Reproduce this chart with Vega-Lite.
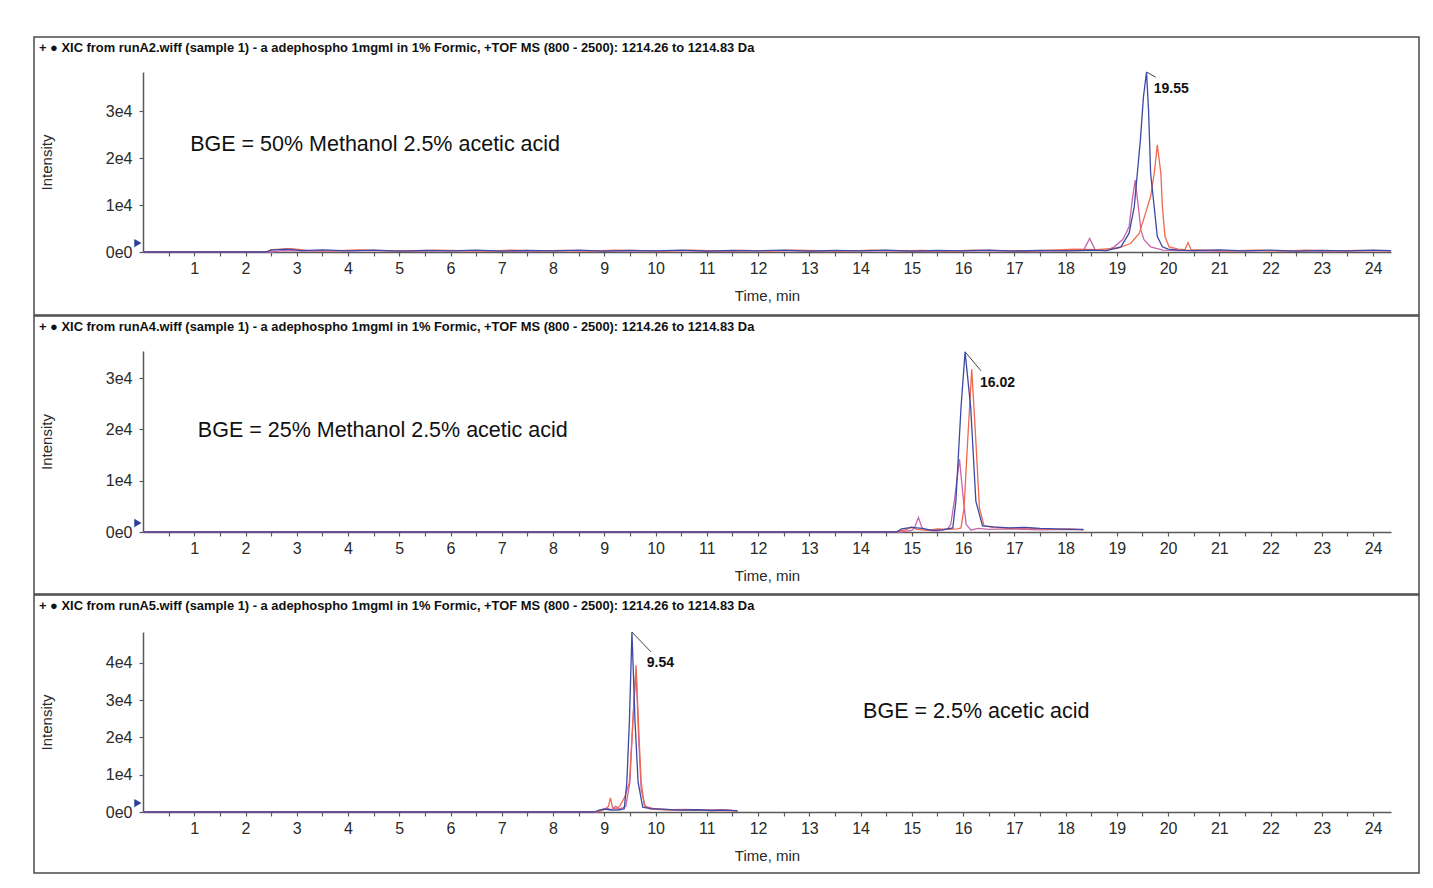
{
  "$schema": "https://vega.github.io/schema/vega-lite/v6.json",
  "padding": {"left": 33, "top": 36, "right": 10, "bottom": 10},
  "spacing": -2,
  "background": "white",
  "config": {
    "view": {"stroke": "#4a4a4a", "strokeWidth": 1.5},
    "axis": {"domainColor": "#5a5a5a", "domainWidth": 1.5, "tickColor": "#5a5a5a", "tickWidth": 1.2, "tickSize": 4, "labelFont": "Liberation Sans", "labelFontSize": 16, "labelColor": "#2a2a2a", "titleFont": "Liberation Sans", "titleFontSize": 15, "titleFontWeight": "normal", "titleColor": "#2a2a2a", "grid": false},
    "title": {"font": "Liberation Sans", "fontSize": 12.9, "fontWeight": "bold", "anchor": "start", "color": "#111111", "frame": "group", "offset": -18, "baseline": "middle", "dx": 5},
    "line": {"strokeWidth": 1.3}
  },
  "datasets": {
    "p1": [
      {"s":"p","t":0,"i":0},{"s":"p","t":2.5,"i":0},{"s":"p","t":2.7,"i":300},{"s":"p","t":3.3,"i":200},{"s":"p","t":4.3,"i":300},{"s":"p","t":5.3,"i":200},{"s":"p","t":6.3,"i":300},{"s":"p","t":7.3,"i":150},{"s":"p","t":8.3,"i":300},{"s":"p","t":9.3,"i":200},{"s":"p","t":10.3,"i":300},{"s":"p","t":11.3,"i":150},{"s":"p","t":12.3,"i":300},{"s":"p","t":13.3,"i":200},{"s":"p","t":14.3,"i":300},{"s":"p","t":15.3,"i":150},{"s":"p","t":16.3,"i":300},{"s":"p","t":17.3,"i":200},{"s":"p","t":18,"i":300},{"s":"p","t":18.35,"i":300},{"s":"p","t":18.47,"i":2900},{"s":"p","t":18.58,"i":400},{"s":"p","t":18.8,"i":300},{"s":"p","t":18.95,"i":1100},{"s":"p","t":19.11,"i":2600},{"s":"p","t":19.18,"i":4000},{"s":"p","t":19.24,"i":5400},{"s":"p","t":19.31,"i":11800},{"s":"p","t":19.36,"i":15300},{"s":"p","t":19.42,"i":9600},{"s":"p","t":19.47,"i":4700},{"s":"p","t":19.53,"i":2600},{"s":"p","t":19.66,"i":1100},{"s":"p","t":19.9,"i":400},{"s":"p","t":20.3,"i":300},{"s":"p","t":21,"i":200},{"s":"p","t":22,"i":300},{"s":"p","t":23,"i":200},{"s":"p","t":24.35,"i":300},
      {"s":"r","t":0,"i":0},{"s":"r","t":2.4,"i":0},{"s":"r","t":2.5,"i":500},{"s":"r","t":2.9,"i":700},{"s":"r","t":3.2,"i":350},{"s":"r","t":3.7,"i":250},{"s":"r","t":4.2,"i":450},{"s":"r","t":4.7,"i":300},{"s":"r","t":5.2,"i":200},{"s":"r","t":5.7,"i":400},{"s":"r","t":6.2,"i":300},{"s":"r","t":6.7,"i":200},{"s":"r","t":7.2,"i":400},{"s":"r","t":7.7,"i":250},{"s":"r","t":8.2,"i":350},{"s":"r","t":8.7,"i":200},{"s":"r","t":9.2,"i":400},{"s":"r","t":9.7,"i":300},{"s":"r","t":10.2,"i":200},{"s":"r","t":10.7,"i":400},{"s":"r","t":11.2,"i":250},{"s":"r","t":11.7,"i":350},{"s":"r","t":12.2,"i":200},{"s":"r","t":12.7,"i":400},{"s":"r","t":13.2,"i":300},{"s":"r","t":13.7,"i":200},{"s":"r","t":14.2,"i":400},{"s":"r","t":14.7,"i":250},{"s":"r","t":15.2,"i":350},{"s":"r","t":15.7,"i":200},{"s":"r","t":16.2,"i":400},{"s":"r","t":16.7,"i":300},{"s":"r","t":17.2,"i":200},{"s":"r","t":17.7,"i":400},{"s":"r","t":18.2,"i":600},{"s":"r","t":18.6,"i":500},{"s":"r","t":19.01,"i":800},{"s":"r","t":19.27,"i":1800},{"s":"r","t":19.44,"i":4000},{"s":"r","t":19.57,"i":8600},{"s":"r","t":19.66,"i":11800},{"s":"r","t":19.73,"i":16700},{"s":"r","t":19.79,"i":22800},{"s":"r","t":19.86,"i":16700},{"s":"r","t":19.89,"i":9600},{"s":"r","t":19.94,"i":3300},{"s":"r","t":20.02,"i":1100},{"s":"r","t":20.2,"i":600},{"s":"r","t":20.33,"i":500},{"s":"r","t":20.39,"i":2000},{"s":"r","t":20.45,"i":500},{"s":"r","t":20.7,"i":400},{"s":"r","t":21.2,"i":250},{"s":"r","t":21.7,"i":400},{"s":"r","t":22.2,"i":200},{"s":"r","t":22.7,"i":400},{"s":"r","t":23.2,"i":250},{"s":"r","t":23.7,"i":350},{"s":"r","t":24.35,"i":250},
      {"s":"b","t":0,"i":0},{"s":"b","t":2.4,"i":0},{"s":"b","t":2.5,"i":400},{"s":"b","t":2.8,"i":600},{"s":"b","t":3.1,"i":300},{"s":"b","t":3.5,"i":450},{"s":"b","t":4,"i":250},{"s":"b","t":4.5,"i":400},{"s":"b","t":5,"i":200},{"s":"b","t":5.5,"i":350},{"s":"b","t":6,"i":250},{"s":"b","t":6.5,"i":400},{"s":"b","t":7,"i":200},{"s":"b","t":7.5,"i":350},{"s":"b","t":8,"i":250},{"s":"b","t":8.5,"i":400},{"s":"b","t":9,"i":200},{"s":"b","t":9.5,"i":350},{"s":"b","t":10,"i":250},{"s":"b","t":10.5,"i":400},{"s":"b","t":11,"i":200},{"s":"b","t":11.5,"i":350},{"s":"b","t":12,"i":250},{"s":"b","t":12.5,"i":400},{"s":"b","t":13,"i":200},{"s":"b","t":13.5,"i":350},{"s":"b","t":14,"i":250},{"s":"b","t":14.5,"i":400},{"s":"b","t":15,"i":200},{"s":"b","t":15.5,"i":350},{"s":"b","t":16,"i":250},{"s":"b","t":16.5,"i":400},{"s":"b","t":17,"i":200},{"s":"b","t":17.5,"i":350},{"s":"b","t":18,"i":250},{"s":"b","t":18.5,"i":400},{"s":"b","t":18.8,"i":300},{"s":"b","t":19.08,"i":1100},{"s":"b","t":19.24,"i":4000},{"s":"b","t":19.34,"i":9600},{"s":"b","t":19.4,"i":16700},{"s":"b","t":19.46,"i":23800},{"s":"b","t":19.52,"i":33000},{"s":"b","t":19.58,"i":38300},{"s":"b","t":19.62,"i":30000},{"s":"b","t":19.66,"i":16700},{"s":"b","t":19.73,"i":9600},{"s":"b","t":19.79,"i":3300},{"s":"b","t":19.89,"i":1100},{"s":"b","t":20,"i":600},{"s":"b","t":20.2,"i":400},{"s":"b","t":20.5,"i":300},{"s":"b","t":21,"i":450},{"s":"b","t":21.5,"i":250},{"s":"b","t":22,"i":400},{"s":"b","t":22.5,"i":200},{"s":"b","t":23,"i":350},{"s":"b","t":23.5,"i":250},{"s":"b","t":24,"i":400},{"s":"b","t":24.35,"i":300}
    ],
    "p2": [
      {"s":"p","t":0,"i":0},{"s":"p","t":14.8,"i":0},{"s":"p","t":15,"i":300},{"s":"p","t":15.05,"i":800},{"s":"p","t":15.13,"i":2800},{"s":"p","t":15.2,"i":800},{"s":"p","t":15.3,"i":300},{"s":"p","t":15.5,"i":200},{"s":"p","t":15.7,"i":600},{"s":"p","t":15.76,"i":1500},{"s":"p","t":15.83,"i":6000},{"s":"p","t":15.93,"i":14200},{"s":"p","t":16.01,"i":6000},{"s":"p","t":16.06,"i":1500},{"s":"p","t":16.15,"i":400},{"s":"p","t":16.3,"i":700},{"s":"p","t":16.5,"i":500},{"s":"p","t":17,"i":600},{"s":"p","t":17.5,"i":400},{"s":"p","t":18,"i":500},{"s":"p","t":18.35,"i":400},
      {"s":"r","t":0,"i":0},{"s":"r","t":14.7,"i":0},{"s":"r","t":14.9,"i":500},{"s":"r","t":15,"i":1000},{"s":"r","t":15.1,"i":500},{"s":"r","t":15.3,"i":300},{"s":"r","t":15.5,"i":600},{"s":"r","t":15.7,"i":500},{"s":"r","t":15.9,"i":600},{"s":"r","t":15.96,"i":800},{"s":"r","t":16.02,"i":4700},{"s":"r","t":16.09,"i":17700},{"s":"r","t":16.17,"i":31700},{"s":"r","t":16.25,"i":17700},{"s":"r","t":16.32,"i":4700},{"s":"r","t":16.41,"i":1200},{"s":"r","t":16.6,"i":900},{"s":"r","t":16.9,"i":700},{"s":"r","t":17.2,"i":800},{"s":"r","t":17.5,"i":600},{"s":"r","t":17.8,"i":500},{"s":"r","t":18.1,"i":600},{"s":"r","t":18.35,"i":400},
      {"s":"b","t":0,"i":0},{"s":"b","t":14.7,"i":0},{"s":"b","t":14.8,"i":600},{"s":"b","t":15,"i":900},{"s":"b","t":15.2,"i":700},{"s":"b","t":15.4,"i":300},{"s":"b","t":15.6,"i":400},{"s":"b","t":15.8,"i":800},{"s":"b","t":15.86,"i":6000},{"s":"b","t":15.96,"i":24200},{"s":"b","t":16.04,"i":35100},{"s":"b","t":16.15,"i":24200},{"s":"b","t":16.25,"i":6000},{"s":"b","t":16.38,"i":1200},{"s":"b","t":16.6,"i":1000},{"s":"b","t":16.9,"i":800},{"s":"b","t":17.2,"i":900},{"s":"b","t":17.5,"i":700},{"s":"b","t":17.8,"i":600},{"s":"b","t":18.1,"i":500},{"s":"b","t":18.35,"i":500}
    ],
    "p3": [
      {"s":"p","t":0,"i":0},{"s":"p","t":8.85,"i":0},{"s":"p","t":8.95,"i":500},{"s":"p","t":9.05,"i":1000},{"s":"p","t":9.15,"i":600},{"s":"p","t":9.22,"i":1500},{"s":"p","t":9.3,"i":800},{"s":"p","t":9.42,"i":1500},{"s":"p","t":9.5,"i":8000},{"s":"p","t":9.56,"i":25000},{"s":"p","t":9.62,"i":38000},{"s":"p","t":9.67,"i":20000},{"s":"p","t":9.72,"i":6000},{"s":"p","t":9.8,"i":1500},{"s":"p","t":10,"i":800},{"s":"p","t":10.3,"i":600},{"s":"p","t":10.6,"i":700},{"s":"p","t":11,"i":500},{"s":"p","t":11.3,"i":600},{"s":"p","t":11.6,"i":300},
      {"s":"r","t":0,"i":0},{"s":"r","t":8.85,"i":0},{"s":"r","t":9,"i":600},{"s":"r","t":9.08,"i":1500},{"s":"r","t":9.12,"i":3800},{"s":"r","t":9.16,"i":1200},{"s":"r","t":9.22,"i":800},{"s":"r","t":9.3,"i":1500},{"s":"r","t":9.4,"i":4000},{"s":"r","t":9.49,"i":8000},{"s":"r","t":9.54,"i":19700},{"s":"r","t":9.58,"i":30000},{"s":"r","t":9.62,"i":39400},{"s":"r","t":9.68,"i":19700},{"s":"r","t":9.72,"i":8000},{"s":"r","t":9.78,"i":1800},{"s":"r","t":9.9,"i":800},{"s":"r","t":10.2,"i":600},{"s":"r","t":10.5,"i":500},{"s":"r","t":10.8,"i":500},{"s":"r","t":11.1,"i":400},{"s":"r","t":11.6,"i":300},
      {"s":"b","t":0,"i":0},{"s":"b","t":8.8,"i":0},{"s":"b","t":8.9,"i":500},{"s":"b","t":9,"i":800},{"s":"b","t":9.1,"i":600},{"s":"b","t":9.2,"i":500},{"s":"b","t":9.3,"i":600},{"s":"b","t":9.39,"i":900},{"s":"b","t":9.44,"i":8000},{"s":"b","t":9.49,"i":24200},{"s":"b","t":9.54,"i":48300},{"s":"b","t":9.6,"i":24200},{"s":"b","t":9.66,"i":8000},{"s":"b","t":9.75,"i":1300},{"s":"b","t":9.9,"i":900},{"s":"b","t":10.2,"i":700},{"s":"b","t":10.5,"i":500},{"s":"b","t":10.8,"i":600},{"s":"b","t":11.1,"i":400},{"s":"b","t":11.4,"i":500},{"s":"b","t":11.6,"i":300}
    ]
  },
  "vconcat": [
    {
      "width": 1385, "height": 278,
      "title": "+ ● XIC from runA2.wiff (sample 1) - a adephospho 1mgml in 1% Formic, +TOF MS (800 - 2500): 1214.26 to 1214.83 Da",
      "resolve": {"axis": {"x": "independent"}},
      "layer": [
        {
          "data": {"name": "p1"},
          "mark": {"type": "line"},
          "encoding": {
            "x": {"field": "t", "type": "quantitative", "scale": {"domain": [0, 24.35], "range": [109, 1357], "nice": false, "zero": false},
                  "axis": {"orient": "bottom", "offset": -63, "title": "Time, min", "format": "d", "values": [1,2,3,4,5,6,7,8,9,10,11,12,13,14,15,16,17,18,19,20,21,22,23,24], "labelOverlap": false, "labelPadding": 4, "titlePadding": 12}},
            "y": {"field": "i", "type": "quantitative", "scale": {"domain": [0, 38300], "range": [215, 35], "nice": false, "zero": false},
                  "axis": {"orient": "left", "offset": -109, "title": "Intensity", "values": [0,5000,10000,15000,20000,25000,30000,35000], "labelOverlap": false, "labelExpr": "datum.value == 0 ? '0e0' : (datum.value % 10000 == 0 ? (datum.value/10000) + 'e4' : '')", "labelPadding": 7, "titlePadding": 51}},
            "color": {"field": "s", "type": "nominal", "scale": {"domain": ["p", "r", "b"], "range": ["#c864ab", "#f2684e", "#3b4aa6"]}, "legend": null}
          }
        },
        {
          "data": {"values": [{"t": 0.92, "i": 22800, "label": "BGE = 50% Methanol 2.5% acetic acid"}]},
          "mark": {"type": "text", "align": "left", "baseline": "middle", "font": "Liberation Sans", "fontSize": 21.5, "color": "#111111"},
          "encoding": {"x": {"field": "t", "type": "quantitative", "axis": null}, "y": {"field": "i", "type": "quantitative"}, "text": {"field": "label"}}
        },
        {
          "data": {"values": [{"t": 19.72, "i": 34700, "label": "19.55"}]},
          "mark": {"type": "text", "align": "left", "baseline": "middle", "font": "Liberation Sans", "fontWeight": "bold", "fontSize": 14, "color": "#111111"},
          "encoding": {"x": {"field": "t", "type": "quantitative", "axis": null}, "y": {"field": "i", "type": "quantitative"}, "text": {"field": "label"}}
        },
        {
          "data": {"values": [{"t": 19.58, "i": 38300, "t2": 19.76, "i2": 37200}]},
          "mark": {"type": "rule", "color": "#444444", "strokeWidth": 1},
          "encoding": {"x": {"field": "t", "type": "quantitative", "axis": null}, "y": {"field": "i", "type": "quantitative"}, "x2": {"field": "t2"}, "y2": {"field": "i2"}}
        },
        {
          "data": {"values": [{"t": -0.1, "i": 1900}]},
          "mark": {"type": "point", "shape": "triangle-right", "filled": true, "size": 70, "color": "#2f3f9e", "opacity": 1},
          "encoding": {"x": {"field": "t", "type": "quantitative", "axis": {"orient": "bottom", "offset": -63, "title": null, "labels": false, "domain": false, "values": [0.5,1.5,2.5,3.5,4.5,5.5,6.5,7.5,8.5,9.5,10.5,11.5,12.5,13.5,14.5,15.5,16.5,17.5,18.5,19.5,20.5,21.5,22.5,23.5]}}, "y": {"field": "i", "type": "quantitative"}}
        }
      ]
    },
    {
      "width": 1385, "height": 278,
      "title": "+ ● XIC from runA4.wiff (sample 1) - a adephospho 1mgml in 1% Formic, +TOF MS (800 - 2500): 1214.26 to 1214.83 Da",
      "resolve": {"axis": {"x": "independent"}},
      "layer": [
        {
          "data": {"name": "p2"},
          "mark": {"type": "line"},
          "encoding": {
            "x": {"field": "t", "type": "quantitative", "scale": {"domain": [0, 24.35], "range": [109, 1357], "nice": false, "zero": false},
                  "axis": {"orient": "bottom", "offset": -62, "title": "Time, min", "format": "d", "values": [1,2,3,4,5,6,7,8,9,10,11,12,13,14,15,16,17,18,19,20,21,22,23,24], "labelOverlap": false, "labelPadding": 4, "titlePadding": 12}},
            "y": {"field": "i", "type": "quantitative", "scale": {"domain": [0, 35260], "range": [216, 35], "nice": false, "zero": false},
                  "axis": {"orient": "left", "offset": -109, "title": "Intensity", "values": [0,5000,10000,15000,20000,25000,30000,35000], "labelOverlap": false, "labelExpr": "datum.value == 0 ? '0e0' : (datum.value % 10000 == 0 ? (datum.value/10000) + 'e4' : '')", "labelPadding": 7, "titlePadding": 51}},
            "color": {"field": "s", "type": "nominal", "scale": {"domain": ["p", "r", "b"], "range": ["#c864ab", "#f2684e", "#3b4aa6"]}, "legend": null}
          }
        },
        {
          "data": {"values": [{"t": 1.07, "i": 19700, "label": "BGE = 25% Methanol 2.5% acetic acid"}]},
          "mark": {"type": "text", "align": "left", "baseline": "middle", "font": "Liberation Sans", "fontSize": 21.5, "color": "#111111"},
          "encoding": {"x": {"field": "t", "type": "quantitative", "axis": null}, "y": {"field": "i", "type": "quantitative"}, "text": {"field": "label"}}
        },
        {
          "data": {"values": [{"t": 16.33, "i": 29000, "label": "16.02"}]},
          "mark": {"type": "text", "align": "left", "baseline": "middle", "font": "Liberation Sans", "fontWeight": "bold", "fontSize": 14, "color": "#111111"},
          "encoding": {"x": {"field": "t", "type": "quantitative", "axis": null}, "y": {"field": "i", "type": "quantitative"}, "text": {"field": "label"}}
        },
        {
          "data": {"values": [{"t": 16.04, "i": 35100, "t2": 16.35, "i2": 31400}]},
          "mark": {"type": "rule", "color": "#444444", "strokeWidth": 1},
          "encoding": {"x": {"field": "t", "type": "quantitative", "axis": null}, "y": {"field": "i", "type": "quantitative"}, "x2": {"field": "t2"}, "y2": {"field": "i2"}}
        },
        {
          "data": {"values": [{"t": -0.1, "i": 1750}]},
          "mark": {"type": "point", "shape": "triangle-right", "filled": true, "size": 70, "color": "#2f3f9e", "opacity": 1},
          "encoding": {"x": {"field": "t", "type": "quantitative", "axis": {"orient": "bottom", "offset": -62, "title": null, "labels": false, "domain": false, "values": [0.5,1.5,2.5,3.5,4.5,5.5,6.5,7.5,8.5,9.5,10.5,11.5,12.5,13.5,14.5,15.5,16.5,17.5,18.5,19.5,20.5,21.5,22.5,23.5]}}, "y": {"field": "i", "type": "quantitative"}}
        }
      ]
    },
    {
      "width": 1385, "height": 278,
      "title": "+ ● XIC from runA5.wiff (sample 1) - a adephospho 1mgml in 1% Formic, +TOF MS (800 - 2500): 1214.26 to 1214.83 Da",
      "resolve": {"axis": {"x": "independent"}},
      "layer": [
        {
          "data": {"name": "p3"},
          "mark": {"type": "line"},
          "encoding": {
            "x": {"field": "t", "type": "quantitative", "scale": {"domain": [0, 24.35], "range": [109, 1357], "nice": false, "zero": false},
                  "axis": {"orient": "bottom", "offset": -61, "title": "Time, min", "format": "d", "values": [1,2,3,4,5,6,7,8,9,10,11,12,13,14,15,16,17,18,19,20,21,22,23,24], "labelOverlap": false, "labelPadding": 4, "titlePadding": 12}},
            "y": {"field": "i", "type": "quantitative", "scale": {"domain": [0, 48320], "range": [217, 37], "nice": false, "zero": false},
                  "axis": {"orient": "left", "offset": -109, "title": "Intensity", "values": [0,5000,10000,15000,20000,25000,30000,35000,40000,45000], "labelOverlap": false, "labelExpr": "datum.value == 0 ? '0e0' : (datum.value % 10000 == 0 ? (datum.value/10000) + 'e4' : '')", "labelPadding": 7, "titlePadding": 51}},
            "color": {"field": "s", "type": "nominal", "scale": {"domain": ["p", "r", "b"], "range": ["#c864ab", "#f2684e", "#3b4aa6"]}, "legend": null}
          }
        },
        {
          "data": {"values": [{"t": 14.05, "i": 26800, "label": "BGE = 2.5% acetic acid"}]},
          "mark": {"type": "text", "align": "left", "baseline": "middle", "font": "Liberation Sans", "fontSize": 21.5, "color": "#111111"},
          "encoding": {"x": {"field": "t", "type": "quantitative", "axis": null}, "y": {"field": "i", "type": "quantitative"}, "text": {"field": "label"}}
        },
        {
          "data": {"values": [{"t": 9.83, "i": 40000, "label": "9.54"}]},
          "mark": {"type": "text", "align": "left", "baseline": "middle", "font": "Liberation Sans", "fontWeight": "bold", "fontSize": 14, "color": "#111111"},
          "encoding": {"x": {"field": "t", "type": "quantitative", "axis": null}, "y": {"field": "i", "type": "quantitative"}, "text": {"field": "label"}}
        },
        {
          "data": {"values": [{"t": 9.54, "i": 48300, "t2": 9.91, "i2": 43000}]},
          "mark": {"type": "rule", "color": "#444444", "strokeWidth": 1},
          "encoding": {"x": {"field": "t", "type": "quantitative", "axis": null}, "y": {"field": "i", "type": "quantitative"}, "x2": {"field": "t2"}, "y2": {"field": "i2"}}
        },
        {
          "data": {"values": [{"t": -0.1, "i": 2400}]},
          "mark": {"type": "point", "shape": "triangle-right", "filled": true, "size": 70, "color": "#2f3f9e", "opacity": 1},
          "encoding": {"x": {"field": "t", "type": "quantitative", "axis": {"orient": "bottom", "offset": -61, "title": null, "labels": false, "domain": false, "values": [0.5,1.5,2.5,3.5,4.5,5.5,6.5,7.5,8.5,9.5,10.5,11.5,12.5,13.5,14.5,15.5,16.5,17.5,18.5,19.5,20.5,21.5,22.5,23.5]}}, "y": {"field": "i", "type": "quantitative"}}
        }
      ]
    }
  ]
}
